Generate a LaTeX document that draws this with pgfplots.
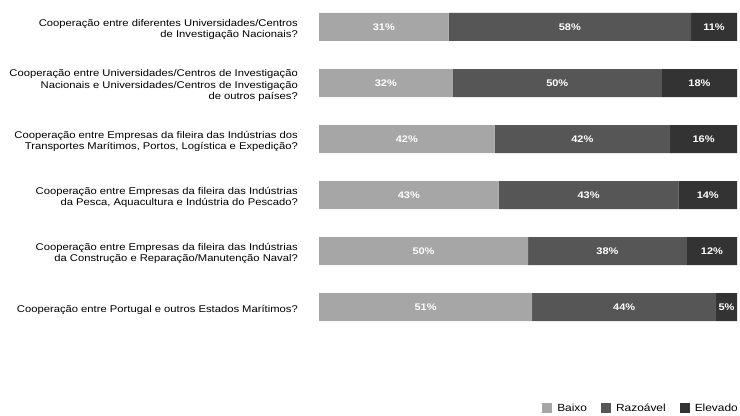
\documentclass[border=0pt]{standalone}
\usepackage{pgfplots}
\pgfplotsset{compat=1.18}
\usepackage{pgfplotstable}
\usepackage{fontspec}
\setmainfont{Liberation Sans}[FakeStretch=1.15]
\definecolor{cBaixo}{HTML}{A6A6A6}
\definecolor{cRaz}{HTML}{565656}
\definecolor{cElev}{HTML}{333333}
\pgfplotstableread{
i b r e
0 31 58 11
1 32 50 18
2 42 42 16
3 43 43 14
4 50 38 12
5 51 44 5
}\data
\pgfplotstablecreatecol[expr={\thisrow{b}/2}]{cb}\data
\pgfplotstablecreatecol[expr={\thisrow{b}+\thisrow{r}/2}]{cr}\data
\pgfplotstablecreatecol[expr={\thisrow{b}+\thisrow{r}+\thisrow{e}/2}]{ce}\data
\pgfplotsset{
  frame/.style={at={(319bp,80bp)}, anchor=south west,
    scale only axis, width=418bp, height=334.88bp,
    xmin=0, xmax=100, ymin=-0.48, ymax=5.5, y dir=reverse}
}
\begin{document}
\begin{tikzpicture}[x=1bp,y=1bp]
\path[use as bounding box] (0,0) rectangle (740,415);
\begin{axis}[
  frame,
  xbar stacked, bar width=28bp,
  axis line style={draw=none},
  tick style={draw=none},
  xtick=\empty,
  ytick={0,1,2,3,4,5},
  yticklabels={
    {Cooperação entre diferentes Universidades/Centros\\de Investigação Nacionais?},
    {Cooperação entre Universidades/Centros de Investigação\\Nacionais e Universidades/Centros de Investigação\\de outros países?},
    {Cooperação entre Empresas da fileira das Indústrias dos\\Transportes Marítimos, Portos, Logística e Expedição?},
    {Cooperação entre Empresas da fileira das Indústrias\\da Pesca, Aquacultura e Indústria do Pescado?},
    {Cooperação entre Empresas da fileira das Indústrias\\da Construção e Reparação/Manutenção Naval?},
    {Cooperação entre Portugal e outros Estados Marítimos?}},
  yticklabel style={align=right, inner sep=0pt, xshift=-21bp, yshift=-2.5bp,
    font=\fontsize{9.8}{11.2}\selectfont},
  legend columns=3,
  legend style={at={(rel axis cs:1,0)}, anchor=east, yshift=-73bp, xshift=1bp,
    draw=none, inner sep=0pt, font=\fontsize{10.4}{10}\selectfont,
    nodes={inner sep=0pt},
    /tikz/every odd column/.append style={column sep=5bp},
    /tikz/every even column/.append style={column sep=14bp}},
  legend image code/.code={\fill[#1] (0bp,-5bp) rectangle (10bp,5bp);},
]
\addplot[fill=cBaixo, draw=none] table[x=b, y=i]{\data};
\addlegendentry{Baixo}
\addplot[fill=cRaz, draw=none] table[x=r, y=i]{\data};
\addlegendentry{Razoável}
\addplot[fill=cElev, draw=none] table[x=e, y=i]{\data};
\addlegendentry{Elevado}
\end{axis}
\begin{axis}[
  frame, hide axis,
  point meta=explicit symbolic,
  nodes near coords={\pgfplotspointmeta\%},
  every node near coord/.append style={anchor=center, text=white,
    font=\bfseries\fontsize{9.6}{9.6}\selectfont},
]
\addplot[draw=none] table[x=cb, y=i, meta=b]{\data};
\addplot[draw=none] table[x=cr, y=i, meta=r]{\data};
\addplot[draw=none] table[x=ce, y=i, meta=e]{\data};
\end{axis}
\end{tikzpicture}
\end{document}
